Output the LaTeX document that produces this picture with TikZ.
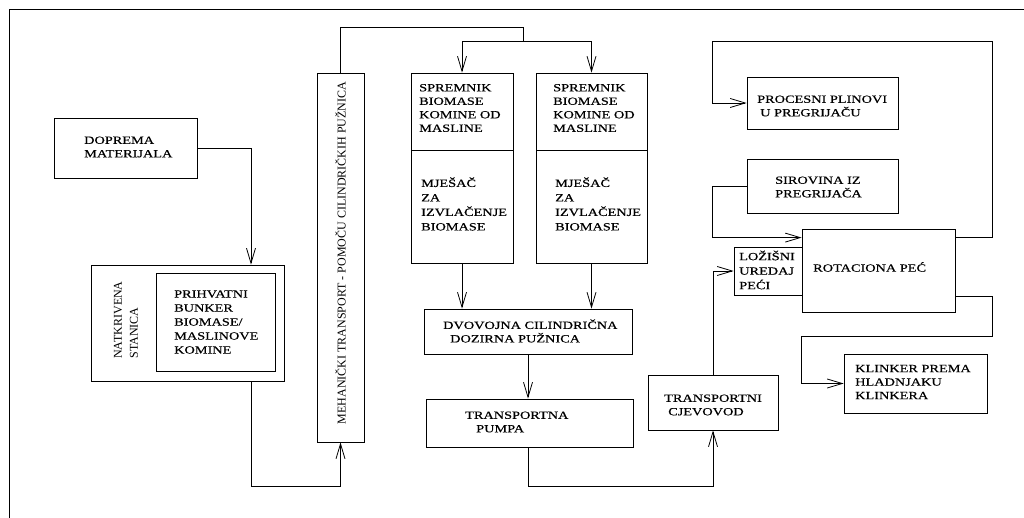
\documentclass[tikz,border=0pt]{standalone}
\usepackage{fontspec}
\setmainfont{Liberation Serif}
\newfontfamily\hfont{Liberation Serif}[FakeStretch=1.3,FakeBold=0.4]
\usetikzlibrary{arrows.meta,calc}
\begin{document}
\begin{tikzpicture}[x=1pt,y=-1pt,
  box/.style={draw, line width=0.8pt, inner sep=0pt},
  txt/.style={font=\hfont\fontsize{11}{13.5}\selectfont, align=left, inner sep=0pt, anchor=west},
  rtxt/.style={font=\fontsize{12}{16}\selectfont, align=left, inner sep=0pt, rotate=90},
  conn/.style={line width=0.8pt},
  arr/.style={line width=0.8pt, -{Straight Barb[length=15pt,width=9pt]}},
]
\useasboundingbox (0,0) rectangle (1024,518);
% frame
\coordinate (fa) at (1024,9);
\coordinate (fb) at (9,9);
\coordinate (fc) at (9,518);
\draw[conn] (fa) -- (fb) -- (fc);

% boxes
\node[box, minimum width=143, minimum height=60] (dop) at (125.5,148) {};
\node[box, minimum width=193, minimum height=116] (nat) at (187.5,323) {};
\node[box, minimum width=119, minimum height=98] (bunk) at (215.5,322) {};
\node[box, minimum width=47, minimum height=369] (meh) at (340.5,257.5) {};
\node[box, minimum width=102, minimum height=77] (spa) at (462,111.5) {};
\node[box, minimum width=102, minimum height=113] (spb) at (462,206.5) {};
\node[box, minimum width=111, minimum height=77] (sqa) at (591.5,111.5) {};
\node[box, minimum width=111, minimum height=113] (sqb) at (591.5,206.5) {};
\node[box, minimum width=208, minimum height=45] (dvo) at (528,331.5) {};
\node[box, minimum width=207, minimum height=48] (pump) at (529.5,423) {};
\node[box, minimum width=130, minimum height=55] (cjev) at (713,402.5) {};
\node[box, minimum width=68, minimum height=48] (loz) at (768,271) {};
\node[box, minimum width=153, minimum height=83] (rot) at (878.5,270.5) {};
\node[box, minimum width=151, minimum height=52] (proc) at (822.5,103) {};
\node[box, minimum width=151, minimum height=54] (sir) at (822.5,186) {};
\node[box, minimum width=143, minimum height=59] (klin) at (915.5,383.5) {};

% texts
\node[txt] (dopT) at (84,147) {DOPREMA\\MATERIJALA};
\node[txt, font=\hfont\fontsize{11}{14}\selectfont] (bunkT) at (174,322) {PRIHVATNI\\BUNKER\\BIOMASE/\\MASLINOVE\\KOMINE};
\node[rtxt] (natT) at (126,320) {NATKRIVENA\\STANICA};
\node[rtxt] (mehT) at (340.5,253) {MEHANIČKI TRANSPORT - POMOČU CILINDRIČKIH PUŽNICA};
\node[txt] (spaT) at (419,108) {SPREMNIK\\BIOMASE\\KOMINE OD\\MASLINE};
\node[txt, font=\hfont\fontsize{11}{14.5}\selectfont] (spbT) at (421,204) {MJEŠAČ\\ZA\\IZVLAČENJE\\BIOMASE};
\node[txt] (sqaT) at (553,108) {SPREMNIK\\BIOMASE\\KOMINE OD\\MASLINE};
\node[txt, font=\hfont\fontsize{11}{14.5}\selectfont] (sqbT) at (555,204) {MJEŠAČ\\ZA\\IZVLAČENJE\\BIOMASE};
\node[txt] (dvoT) at (443,331) {DVOVOJNA CILINDRIČNA\\\hspace{7pt}DOZIRNA PUŽNICA};
\node[txt] (pumpT) at (465,422) {TRANSPORTNA\\\hspace{11pt}PUMPA};
\node[txt] (cjevT) at (664,405) {TRANSPORTNI\\\hspace{4pt}CJEVOVOD};
\node[txt, font=\hfont\fontsize{11}{14.5}\selectfont] (lozT) at (739,270) {LOŽIŠNI\\UREDAJ\\PEĆI};
\node[txt] (rotT) at (813,267) {ROTACIONA PEĆ};
\node[txt] (procT) at (757,106) {PROCESNI PLINOVI\\\hspace{3pt}U PREGRIJAČU};
\node[txt] (sirT) at (775,187) {SIROVINA IZ\\PREGRIJAČA};
\node[txt] (klinT) at (855,382) {KLINKER PREMA\\HLADNJAKU\\KLINKERA};

% connectors
\draw[arr] (dop.east) -| ([xshift=63.5pt]nat.north);
\draw[arr] ([xshift=63.5pt]nat.south) -- ++(0,105) -| (meh.south);
\coordinate (split) at (523,41);
\draw[conn] (meh.north) |- ($(split)+(0,-14)$) -- (split);
\draw[arr] (split) -| (spa.north);
\draw[arr] (split) -| (sqa.north);
\draw[arr] (spb.south) -- (spb.south |- dvo.north);
\draw[arr] (sqb.south) -- (sqb.south |- dvo.north);
\draw[arr] (dvo.south) -- (dvo.south |- pump.north);
\draw[arr] ([xshift=-1.5pt]pump.south) -- ++(0,39) -| (cjev.south);
\draw[arr] (cjev.north) |- (loz.west);
\draw[arr] (sir.west) -- ++(-34,0) |- ($(rot.north west)+(0,9)$);
\draw[arr] ($(rot.north east)+(0,9)$) -- ++(37,0) |- ($(proc.west)+(-34,-62)$) |- (proc.west);
\draw[arr] ($(rot.north east)+(0,68)$) -- ++(37,0) -- ++(0,40) -| ($(rot.south west)+(0,50)$) |- (klin.west);
\end{tikzpicture}
\end{document}
